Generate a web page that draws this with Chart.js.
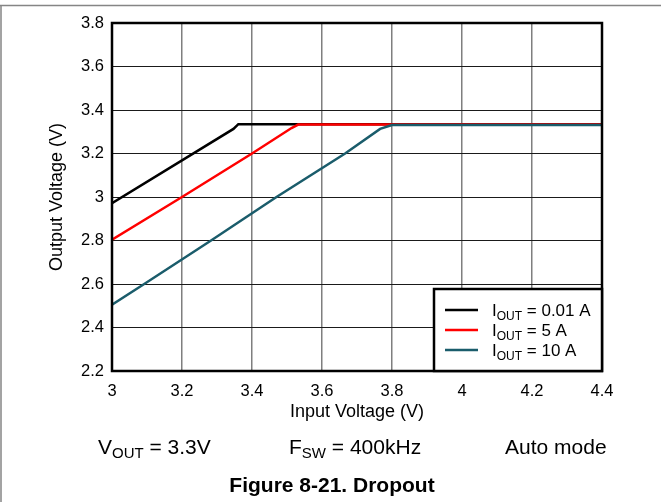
<!DOCTYPE html>
<html>
<head>
<meta charset="utf-8">
<title>Figure 8-21. Dropout</title>
<script src="https://cdn.jsdelivr.net/npm/chart.js@4.4.1/dist/chart.umd.min.js"></script>
<style>
  html, body { margin: 0; padding: 0; background: #fff; }
  canvas { display: block; }
</style>
</head>
<body>
<canvas id="dropoutChart" width="661" height="502"></canvas>
<script>
// Values (input V -> output V)
const vin001 = [3.0, 3.347, 3.361, 4.4]
const vout001 = [2.972, 3.313, 3.335, 3.335]
const vin5 = [3.0, 3.2, 3.4, 3.513, 3.532, 4.4]
const vout5 = [2.804, 3.0, 3.2, 3.317, 3.333, 3.333]
const vin10 = [3.0, 3.092, 3.283, 3.47, 3.666, 3.766, 3.8, 4.4]
const vout10 = [2.505, 2.6, 2.8, 3.0, 3.2, 3.313, 3.331, 3.331]

const seriesLabels = ['0.01 A', '5 A', '10 A']
const seriesColors = ['#000000', '#ff0000', '#1a5c6b']

const xTicks = [3, 3.2, 3.4, 3.6, 3.8, 4, 4.2, 4.4]
const yTicks = [2.2, 2.4, 2.6, 2.8, 3, 3.2, 3.4, 3.6, 3.8]

const FONT = '"Liberation Sans", Arial, Helvetica, sans-serif'

function toPoints(xs, ys) {
  return xs.map((x, i) => ({ x: x, y: ys[i] }))
}

// draw text made of normal and subscript parts, returns end x
function drawSubText(ctx, x, y, parts, size, subSize, subDrop) {
  parts.forEach(p => {
    ctx.font = (p.sub ? subSize : size) + 'px ' + FONT
    ctx.fillText(p.t, x, p.sub ? y + subDrop : y)
    x += ctx.measureText(p.t).width
  })
  return x
}

const decorPlugin = {
  id: 'decor',
  beforeDraw(chart) {
    const ctx = chart.ctx
    ctx.save()
    ctx.fillStyle = '#fff'
    ctx.fillRect(0, 0, chart.width, chart.height)
    // page frame lines (top and left)
    ctx.strokeStyle = '#858585'
    ctx.lineWidth = 1.5
    ctx.beginPath()
    ctx.moveTo(0, 5.5)
    ctx.lineTo(chart.width, 5.5)
    ctx.moveTo(1, 5.5)
    ctx.lineTo(1, chart.height)
    ctx.stroke()
    ctx.restore()
  },
  afterDatasetsDraw(chart) {
    const ctx = chart.ctx
    const a = chart.chartArea
    ctx.save()

    // plot frame
    ctx.strokeStyle = '#000'
    ctx.lineWidth = 2.5
    ctx.strokeRect(a.left, a.top, a.right - a.left, a.bottom - a.top)

    // legend box in the lower right corner
    const bw = 168, bh = 82
    const bx = a.right - bw, by = a.bottom - bh
    ctx.fillStyle = '#fff'
    ctx.fillRect(bx, by, bw, bh)
    ctx.strokeRect(bx, by, bw, bh)

    chart.data.datasets.forEach((ds, i) => {
      const ry = by + 21 + i * 20
      ctx.strokeStyle = ds.borderColor
      ctx.lineWidth = 2.5
      ctx.beginPath()
      ctx.moveTo(bx + 11, ry)
      ctx.lineTo(bx + 44, ry)
      ctx.stroke()
      ctx.fillStyle = '#000'
      ctx.textBaseline = 'alphabetic'
      ctx.textAlign = 'left'
      drawSubText(ctx, bx + 58, ry + 6, [
        { t: 'I' }, { t: 'OUT', sub: true }, { t: ' = ' + seriesLabels[i] }
      ], 17, 12, 4)
    })
    ctx.restore()
  },
  afterDraw(chart) {
    const ctx = chart.ctx
    const a = chart.chartArea
    ctx.save()
    ctx.fillStyle = '#000'
    ctx.textAlign = 'center'
    ctx.textBaseline = 'middle'

    // axis titles
    ctx.font = '18px ' + FONT
    ctx.fillText('Input Voltage (V)', (a.left + a.right) / 2, 412)
    ctx.save()
    ctx.translate(57, (a.top + a.bottom) / 2)
    ctx.rotate(-Math.PI / 2)
    ctx.fillText('Output Voltage (V)', 0, 0)
    ctx.restore()

    // test conditions under the plot
    ctx.textAlign = 'left'
    ctx.textBaseline = 'alphabetic'
    drawSubText(ctx, 98, 454, [{ t: 'V' }, { t: 'OUT', sub: true }, { t: ' = 3.3V' }], 21, 15, 4)
    drawSubText(ctx, 289, 454, [{ t: 'F' }, { t: 'SW', sub: true }, { t: ' = 400kHz' }], 21, 15, 4)
    ctx.font = '21px ' + FONT
    ctx.fillText('Auto mode', 505, 454)

    // caption
    ctx.textAlign = 'center'
    ctx.font = 'bold 21px ' + FONT
    ctx.fillText('Figure 8-21. Dropout', 332, 492)
    ctx.restore()
  }
}

const tickFont = { family: FONT, size: 16.5 }

new Chart(document.getElementById('dropoutChart'), {
  type: 'line',
  data: {
    datasets: [
      { label: 'IOUT = 0.01 A', data: toPoints(vin001, vout001), order: 2 },
      { label: 'IOUT = 5 A', data: toPoints(vin5, vout5), order: 1 },
      { label: 'IOUT = 10 A', data: toPoints(vin10, vout10), order: 0 }
    ].map((ds, i) => Object.assign(ds, {
      borderColor: seriesColors[i],
      backgroundColor: seriesColors[i],
      borderWidth: 2.5,
      pointRadius: 0,
      tension: 0,
      fill: false
    }))
  },
  options: {
    responsive: false,
    animation: false,
    devicePixelRatio: 1,
    layout: { padding: { top: 23, right: 59, left: 0, bottom: 0 } },
    plugins: {
      legend: { display: false },
      tooltip: { enabled: false }
    },
    scales: {
      x: {
        type: 'linear',
        min: 3,
        max: 4.4,
        afterBuildTicks: s => { s.ticks = xTicks.map(v => ({ value: v })) },
        afterFit: s => { s.height = 131 },
        grid: { color: '#7f7f7f', lineWidth: 1.5, drawTicks: false },
        border: { display: false },
        ticks: {
          padding: 11,
          color: '#000',
          font: tickFont,
          maxRotation: 0,
          autoSkip: false,
          callback: v => String(+v.toFixed(1))
        }
      },
      y: {
        type: 'linear',
        min: 2.2,
        max: 3.8,
        afterBuildTicks: s => { s.ticks = yTicks.map(v => ({ value: v })) },
        afterFit: s => { s.width = 112 },
        grid: { color: '#1a1a1a', lineWidth: 1, drawTicks: false },
        border: { display: false },
        ticks: {
          padding: 8,
          color: '#000',
          font: tickFont,
          autoSkip: false,
          callback: v => String(+v.toFixed(1))
        }
      }
    }
  },
  plugins: [decorPlugin]
})
</script>
</body>
</html>
